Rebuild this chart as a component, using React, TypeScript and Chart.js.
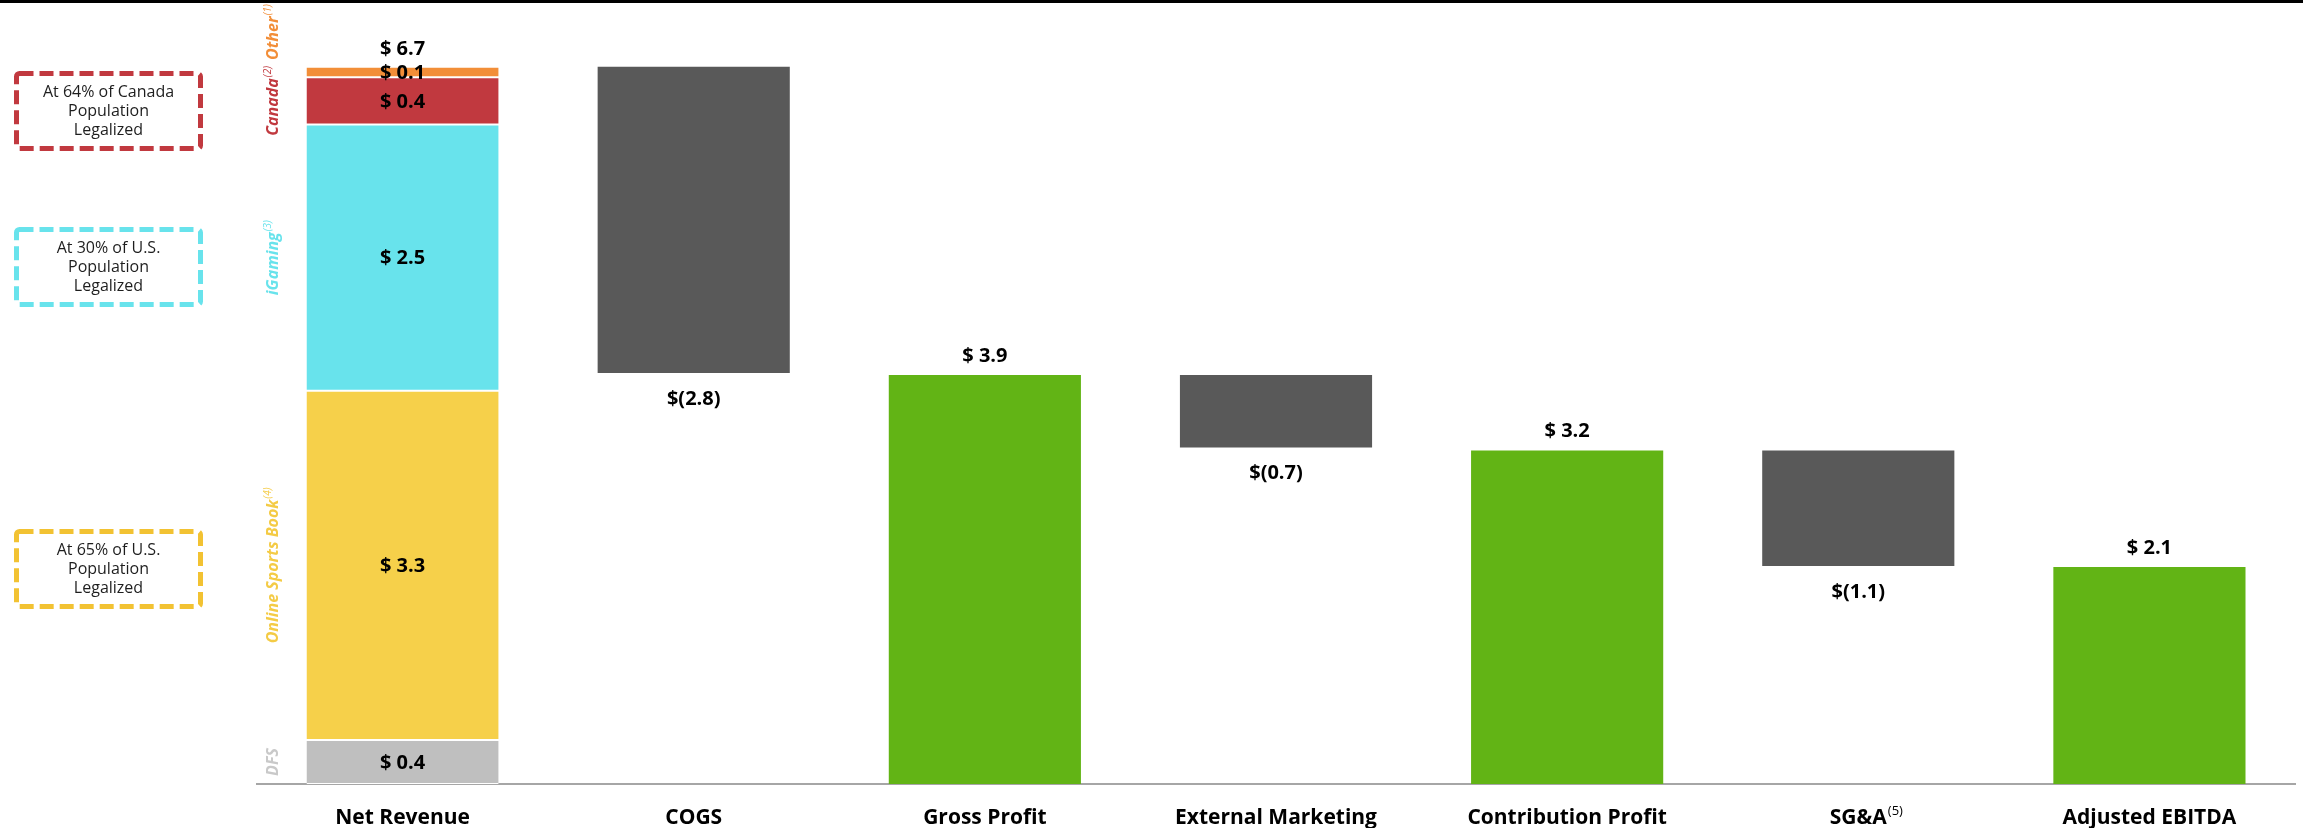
import React, { useEffect, useRef } from 'react';
import { Chart, registerables } from 'chart.js';

Chart.register(...registerables);

const FONT = "'Open Sans', 'Liberation Sans', sans-serif";

// Categories along the x axis
const categories = ['Net Revenue', 'COGS', 'Gross Profit', 'External Marketing', 'Contribution Profit', 'SG&A', 'Adjusted EBITDA'];
const categoryFootnotes = ['', '', '', '', '', '(5)', ''];

// Net revenue stack (bottom to top)
const segmentNames = ['DFS', 'Online Sports Book', 'iGaming', 'Canada', 'Other'];
const segmentFootnotes = ['', '(4)', '(3)', '(2)', '(1)'];
const segmentValues = [0.42, 3.33, 2.54, 0.45, 0.1];
const segmentLabels = ['$ 0.4', '$ 3.3', '$ 2.5', '$ 0.4', '$ 0.1'];
const segmentColors = ['#BFBFBF', '#F6D04A', '#68E3EC', '#C1393F', '#F28E38'];
const segmentNameColors = ['#C9C9C9', '#F4CB45', '#68E3EC', '#C1393F', '#F28E38'];
const netRevenueLabel = '$ 6.7';

// Waterfall steps after net revenue
const stepKinds = ['stack', 'cost', 'total', 'cost', 'total', 'cost', 'total'];
const stepValues = [0, 2.92, 3.9, 0.69, 3.18, 1.1, 2.07];
const stepLabels = ['', '$(2.8)', '$ 3.9', '$(0.7)', '$ 3.2', '$(1.1)', '$ 2.1'];

// Callouts
const calloutTexts = [
  ['At 64% of Canada', 'Population', 'Legalized'],
  ['At 30% of U.S.', 'Population', 'Legalized'],
  ['At 65% of U.S.', 'Population', 'Legalized'],
];
const calloutColors = ['#C1393F', '#68E3EC', '#F2C232'];
const calloutCenters = [111, 267, 569];

const COST_COLOR = '#595959';
const TOTAL_COLOR = '#62B415';

export default function App() {
  const ref = useRef<HTMLCanvasElement | null>(null);

  useEffect(() => {
    if (!ref.current) return;

    const segStarts: number[] = [];
    let acc = 0;
    segmentValues.forEach((v) => {
      segStarts.push(acc);
      acc += v;
    });
    const netTotal = acc;

    const costData: any[] = [];
    const totalData: any[] = [];
    let running = netTotal;
    stepKinds.forEach((k, i) => {
      if (k === 'cost') {
        costData.push([running - stepValues[i], running]);
        totalData.push(null);
      } else if (k === 'total') {
        costData.push(null);
        totalData.push([0, stepValues[i]]);
        running = stepValues[i];
      } else {
        costData.push(null);
        totalData.push(null);
      }
    });

    const segDatasets = segmentNames.map((name, si) => ({
      label: name,
      data: categories.map((_, ci) => (ci === 0 ? [segStarts[si], segStarts[si] + segmentValues[si]] : null)),
      backgroundColor: segmentColors[si],
      borderColor: '#FFFFFF',
      borderWidth: { top: 1, bottom: 1, left: 0, right: 0 },
      borderSkipped: false,
    }));

    const decor = {
      id: 'decor',
      afterDraw(chart: any) {
        const ctx = chart.ctx as CanvasRenderingContext2D;
        const x = chart.scales.x;
        const y = chart.scales.y;
        ctx.save();

        // top rule
        ctx.fillStyle = '#000';
        ctx.fillRect(0, 0, chart.width, 3);

        // value labels
        ctx.fillStyle = '#000';
        ctx.textAlign = 'center';
        ctx.textBaseline = 'middle';
        ctx.font = `bold 20px ${FONT}`;
        const x0 = x.getPixelForValue(0);
        segmentValues.forEach((v, si) => {
          const cy = y.getPixelForValue(segStarts[si] + v / 2);
          ctx.fillText(segmentLabels[si], x0, cy + 1);
        });
        ctx.fillText(netRevenueLabel, x0, y.getPixelForValue(netTotal) - 17);

        stepKinds.forEach((k, i) => {
          const cx = x.getPixelForValue(i);
          if (k === 'cost') {
            const bottom = y.getPixelForValue(costData[i][0]);
            ctx.fillText(stepLabels[i], cx, bottom + 26);
          } else if (k === 'total') {
            const top = y.getPixelForValue(totalData[i][1]);
            ctx.fillText(stepLabels[i], cx, top - 19);
          }
        });

        // superscript footnotes on category labels
        const labelItems = x.getLabelItems ? x.getLabelItems() : [];
        categoryFootnotes.forEach((fn, i) => {
          if (!fn) return;
          ctx.font = `bold 21px ${FONT}`;
          const w = ctx.measureText(categories[i]).width;
          const cx = x.getPixelForValue(i);
          let ty = 808;
          const item = labelItems[i];
          if (item && item.options) ty = item.options.translation[1];
          ctx.font = `13px ${FONT}`;
          ctx.textAlign = 'left';
          ctx.textBaseline = 'top';
          ctx.fillText(fn, cx + w / 2 + 1, ty - 1);
        });

        // vertical segment names
        segmentNames.forEach((name, si) => {
          let cy = y.getPixelForValue(segStarts[si] + segmentValues[si] / 2);
          if (si === segmentNames.length - 1) cy = 32;
          ctx.save();
          ctx.translate(273, cy);
          ctx.rotate(-Math.PI / 2);
          ctx.font = `italic bold 16px ${FONT}`;
          const w1 = ctx.measureText(name).width;
          ctx.font = `italic 10px ${FONT}`;
          const w2 = segmentFootnotes[si] ? ctx.measureText(segmentFootnotes[si]).width + 1 : 0;
          const start = -(w1 + w2) / 2;
          ctx.fillStyle = segmentNameColors[si];
          ctx.textAlign = 'left';
          ctx.textBaseline = 'middle';
          ctx.font = `italic bold 16px ${FONT}`;
          ctx.fillText(name, start, 0);
          if (segmentFootnotes[si]) {
            ctx.font = `italic 10px ${FONT}`;
            ctx.fillText(segmentFootnotes[si], start + w1 + 1, -5);
          }
          ctx.restore();
        });

        // callout boxes
        calloutTexts.forEach((lines, ci) => {
          const cy = calloutCenters[ci];
          const bx = 16.5;
          const bw = 184;
          const bh = 75;
          const by = cy - bh / 2;
          ctx.save();
          ctx.strokeStyle = calloutColors[ci];
          ctx.lineWidth = 5;
          ctx.setLineDash([14, 6]);
          ctx.beginPath();
          (ctx as any).roundRect(bx, by, bw, bh, 3);
          ctx.stroke();
          ctx.restore();
          ctx.fillStyle = '#1E1E1E';
          ctx.font = `16px ${FONT}`;
          ctx.textAlign = 'center';
          ctx.textBaseline = 'middle';
          lines.forEach((ln, li) => {
            ctx.fillText(ln, bx + bw / 2, cy + (li - 1) * 19);
          });
        });

        ctx.restore();
      },
    };

    const chart = new Chart(ref.current, {
      type: 'bar',
      data: {
        labels: categories,
        datasets: [
          ...segDatasets,
          {
            label: 'Costs',
            data: costData,
            backgroundColor: COST_COLOR,
            borderWidth: 0,
          },
          {
            label: 'Totals',
            data: totalData,
            backgroundColor: TOTAL_COLOR,
            borderWidth: 0,
          },
        ] as any,
      },
      options: {
        responsive: false,
        animation: false,
        maintainAspectRatio: false,
        layout: { padding: { left: 257, right: 8, top: 50, bottom: 0 } },
        plugins: {
          legend: { display: false },
          tooltip: { enabled: false },
        },
        datasets: { bar: { categoryPercentage: 1, barPercentage: 0.66 } },
        scales: {
          x: {
            stacked: true,
            grid: { display: false },
            border: { display: true, color: '#A6A6A6', width: 2 },
            ticks: {
              color: '#000',
              padding: 14,
              font: { family: FONT, size: 21, weight: 'bold', lineHeight: 1.14 },
              maxRotation: 0,
              autoSkip: false,
            },
            afterFit(scale: any) {
              scale.height = 44;
            },
          },
          y: {
            display: false,
            stacked: false,
            min: 0,
            max: 7,
          },
        },
      } as any,
      plugins: [decor],
    });

    return () => chart.destroy();
  }, []);

  return (
    <div style={{ position: 'absolute', left: 0, top: 0, width: 2303, height: 828, background: '#fff' }}>
      <canvas ref={ref} width={2303} height={828} />
    </div>
  );
}
